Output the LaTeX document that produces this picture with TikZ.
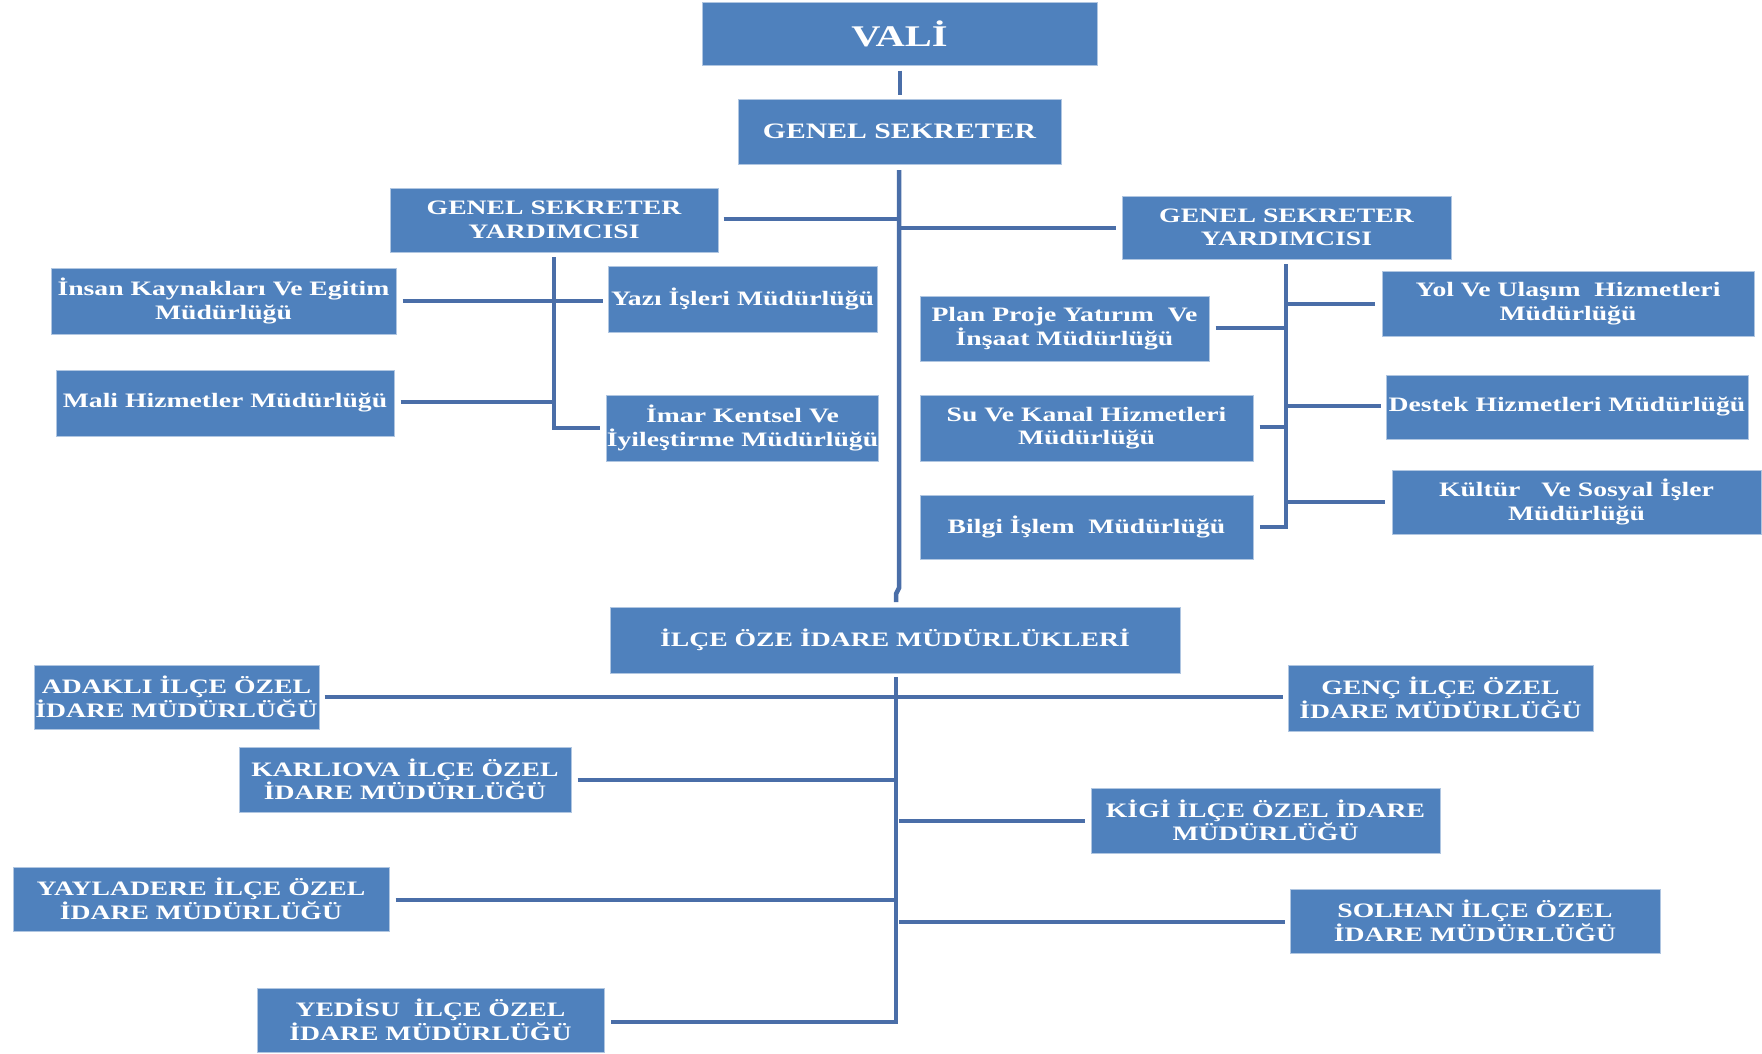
\documentclass[tikz,border=0pt]{standalone}
\usepackage{fontspec}
\newfontfamily\bxf{Liberation Serif}[FakeStretch=1.35]
\definecolor{boxblue}{HTML}{4F81BD}
\definecolor{linblue}{HTML}{4A6EA8}
\begin{document}
\begin{tikzpicture}[x=1pt,y=-1pt,
  box/.style={fill=boxblue, draw=boxblue!45, line width=1pt, text=white, align=center, inner sep=0pt,
    font=\bxf\bfseries\fontsize{20.5}{23.5}\selectfont},
  conn/.style={draw=linblue, line width=4pt},
  trunk/.style={draw=linblue, line width=4.5pt}]
\useasboundingbox (0,0) rectangle (1762,1053);
% helper: box from corners
\newcommand\bxnode[6]{\node[box, minimum width={#4-#2}, minimum height={#5-#3}] (#1) at ({(#2+#4)/2},{(#3+#5)/2}) {#6};}
\bxnode{vali}{702}{2}{1097}{65}{\fontsize{30}{34}\selectfont VALİ}
\bxnode{gs}{738}{99}{1061}{164}{\fontsize{22}{25}\selectfont GENEL SEKRETER}
\bxnode{gsyL}{390}{188}{718}{252}{GENEL SEKRETER\\YARDIMCISI}
\bxnode{gsyR}{1122}{196}{1451}{259}{GENEL SEKRETER\\YARDIMCISI}
\bxnode{insan}{51}{268}{396}{334}{İnsan Kaynakları Ve Egitim\\Müdürlüğü}
\bxnode{yazi}{608}{266}{877}{332}{Yazı İşleri Müdürlüğü}
\bxnode{mali}{56}{370}{394}{436}{Mali Hizmetler Müdürlüğü}
\bxnode{imar}{607}{395}{878}{461}{İmar Kentsel Ve\\İyileştirme Müdürlüğü}
\bxnode{plan}{920}{296}{1209}{361}{Plan Proje Yatırım\ \ Ve\\İnşaat Müdürlüğü}
\bxnode{su}{920}{395}{1253}{461}{Su Ve Kanal Hizmetleri\\Müdürlüğü}
\bxnode{bilgi}{920}{495}{1253}{559}{Bilgi İşlem\ \ Müdürlüğü}
\bxnode{yol}{1382}{271}{1754}{336}{Yol Ve Ulaşım\ \ Hizmetleri\\Müdürlüğü}
\bxnode{destek}{1386}{375}{1748}{439}{Destek Hizmetleri Müdürlüğü}
\bxnode{kultur}{1392}{470}{1761}{534}{Kültür\ \ \ Ve Sosyal İşler\\Müdürlüğü}
\bxnode{ilce}{610}{607}{1180}{673}{İLÇE ÖZE İDARE MÜDÜRLÜKLERİ}
\bxnode{adakli}{34}{665}{319}{729}{ADAKLI İLÇE ÖZEL\\İDARE MÜDÜRLÜĞÜ}
\bxnode{genc}{1288}{665}{1593}{731}{GENÇ İLÇE ÖZEL\\İDARE MÜDÜRLÜĞÜ}
\bxnode{karliova}{239}{747}{571}{812}{KARLIOVA İLÇE ÖZEL\\İDARE MÜDÜRLÜĞÜ}
\bxnode{kigi}{1091}{788}{1440}{853}{KİGİ İLÇE ÖZEL İDARE\\MÜDÜRLÜĞÜ}
\bxnode{yayladere}{13}{867}{389}{931}{YAYLADERE İLÇE ÖZEL\\İDARE MÜDÜRLÜĞÜ}
\bxnode{solhan}{1290}{889}{1660}{953}{SOLHAN İLÇE ÖZEL\\İDARE MÜDÜRLÜĞÜ}
\bxnode{yedisu}{257}{988}{604}{1052}{YEDİSU\ \ İLÇE ÖZEL\\İDARE MÜDÜRLÜĞÜ}
% bus coordinates
\coordinate (tTop) at (899,170);
\coordinate (tJog1) at (899,588);
\coordinate (tJog2) at (896,594);
\coordinate (tEnd) at (896,602);
\coordinate (lTop) at (896,677);
\coordinate (lBot) at (896,1022);
\coordinate (bL) at (554,257);
\coordinate (bLbot) at (554,428);
\coordinate (bR) at (1286,264);
\coordinate (bRbot) at (1286,527);
% connectors
\draw[trunk] ([yshift=-5]vali.south -| 900,0) -- ([yshift=4]gs.north -| 900,0);
\draw[trunk] (tTop) -- (tJog1) -- (tJog2) -- (tEnd);
\draw[conn] ([xshift=5]gsyL.east |- 0,219) -- (899,219);
\draw[conn] (899,228) -- ([xshift=-6]gsyR.west |- 0,228);
% left group
\draw[conn] (bL) -- (bLbot) -- ([xshift=-6]imar.west |- bLbot);
\draw[conn] ([xshift=6]insan.east |- 0,301) -- ([xshift=-5]yazi.west |- 0,301);
\draw[conn] ([xshift=6]mali.east |- 0,402) -- (554,402);
% right group
\draw[conn] (bR) -- (bRbot) -- ([xshift=6]bilgi.east |- bRbot);
\draw[conn] (1286,304) -- ([xshift=-7]yol.west |- 0,304);
\draw[conn] ([xshift=6]plan.east |- 0,328) -- (1286,328);
\draw[conn] (1286,406) -- ([xshift=-5]destek.west |- 0,406);
\draw[conn] ([xshift=6]su.east |- 0,427) -- (1286,427);
\draw[conn] (1286,502) -- ([xshift=-7]kultur.west |- 0,502);
% lower group
\draw[trunk] (lTop) -- (lBot) -- ([xshift=6]yedisu.east |- lBot);
\draw[conn] ([xshift=5]adakli.east |- 0,697) -- ([xshift=-5]genc.west |- 0,697);
\draw[conn] ([xshift=6]karliova.east |- 0,780) -- (896,780);
\draw[conn] (899,821) -- ([xshift=-6]kigi.west |- 0,821);
\draw[conn] ([xshift=6]yayladere.east |- 0,900) -- (896,900);
\draw[conn] (899,922) -- ([xshift=-5]solhan.west |- 0,922);
\end{tikzpicture}
\end{document}
